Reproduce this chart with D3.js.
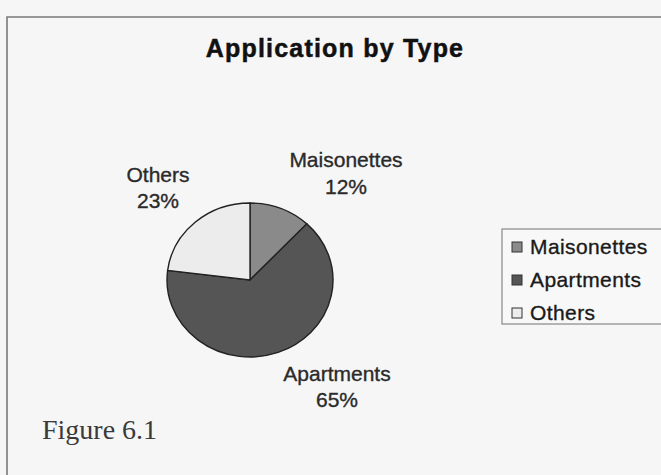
<!DOCTYPE html>
<html><head><meta charset="utf-8">
<script src="https://cdn.jsdelivr.net/npm/d3@7"></script>
<style>html,body{margin:0;padding:0;background:#f6f6f6;}svg{display:block;}</style>
</head><body>
<svg id="c" width="661" height="475"></svg>
<script>
const categories = ["Maisonettes", "Apartments", "Others"];
const values = [12, 65, 23];
const colors = ["#8a8a8a", "#555555", "#ececec"];
const title = "Application by Type";
const caption = "Figure 6.1";

const svg = d3.select("#c");
svg.append("rect").attr("width",661).attr("height",475).attr("fill","#f6f6f6");
// frame
svg.append("path").attr("d","M7,475 L7,17 L661,17").attr("fill","none").attr("stroke","#7a7a7a").attr("stroke-width",1.6);

svg.append("text").attr("x",335).attr("y",57).attr("text-anchor","middle")
  .attr("font-family","Liberation Sans, Arial, sans-serif").attr("font-weight","bold")
  .attr("font-size",25).attr("letter-spacing",1.2).attr("fill","#111")
  .attr("stroke","#111").attr("stroke-width",0.5).text(title);

const cx = 250, cy = 280, rx = 83, ry = 77;
const data = categories.map((c,i)=>({cat:c, value:values[i], color:colors[i]}));
const pie = d3.pie().value(d=>d.value).sort(null);
const arc = d3.arc().innerRadius(0).outerRadius(ry);
const g = svg.append("g").attr("transform",`translate(${cx},${cy}) scale(${rx/ry},1)`);
g.selectAll("path").data(pie(data)).join("path")
  .attr("d",arc).attr("fill",d=>d.data.color)
  .attr("stroke","#222").attr("stroke-width",1.4).attr("vector-effect","non-scaling-stroke");

// labels
const labelPos = [[346,167,194],[337,381,407],[158,182,208]];
const lg = svg.append("g").attr("font-family","Liberation Sans, Arial, sans-serif").attr("font-size",21)
  .attr("fill","#2a2a2a").attr("stroke","#2a2a2a").attr("stroke-width",0.35);
data.forEach((d,i)=>{
  const p = labelPos[i];
  lg.append("text").attr("x",p[0]).attr("y",p[1]).attr("text-anchor","middle").text(d.cat);
  lg.append("text").attr("x",p[0]).attr("y",p[2]).attr("text-anchor","middle").text(d.value+"%");
});

// legend
const leg = svg.append("g");
leg.append("rect").attr("x",502).attr("y",229).attr("width",170).attr("height",95)
  .attr("fill","#f8f8f8").attr("stroke","#888").attr("stroke-width",1.2);
const rows = leg.selectAll("g.r").data(data).join("g").attr("class","r")
  .attr("transform",(d,i)=>`translate(512,${247+i*33})`);
rows.append("rect").attr("x",0).attr("y",-5).attr("width",10).attr("height",10)
  .attr("fill",d=>d.color).attr("stroke","#333").attr("stroke-width",1);
rows.append("text").attr("x",18).attr("y",7).attr("font-family","Liberation Sans, Arial, sans-serif")
  .attr("font-size",21).attr("letter-spacing",0.4).attr("fill","#1a1a1a")
  .attr("stroke","#1a1a1a").attr("stroke-width",0.35).text(d=>d.cat);

svg.append("text").attr("x",42).attr("y",439).attr("font-family","Liberation Serif, Times New Roman, serif")
  .attr("font-size",28).attr("fill","#3a3a3a").text(caption);
</script>
</body></html>
